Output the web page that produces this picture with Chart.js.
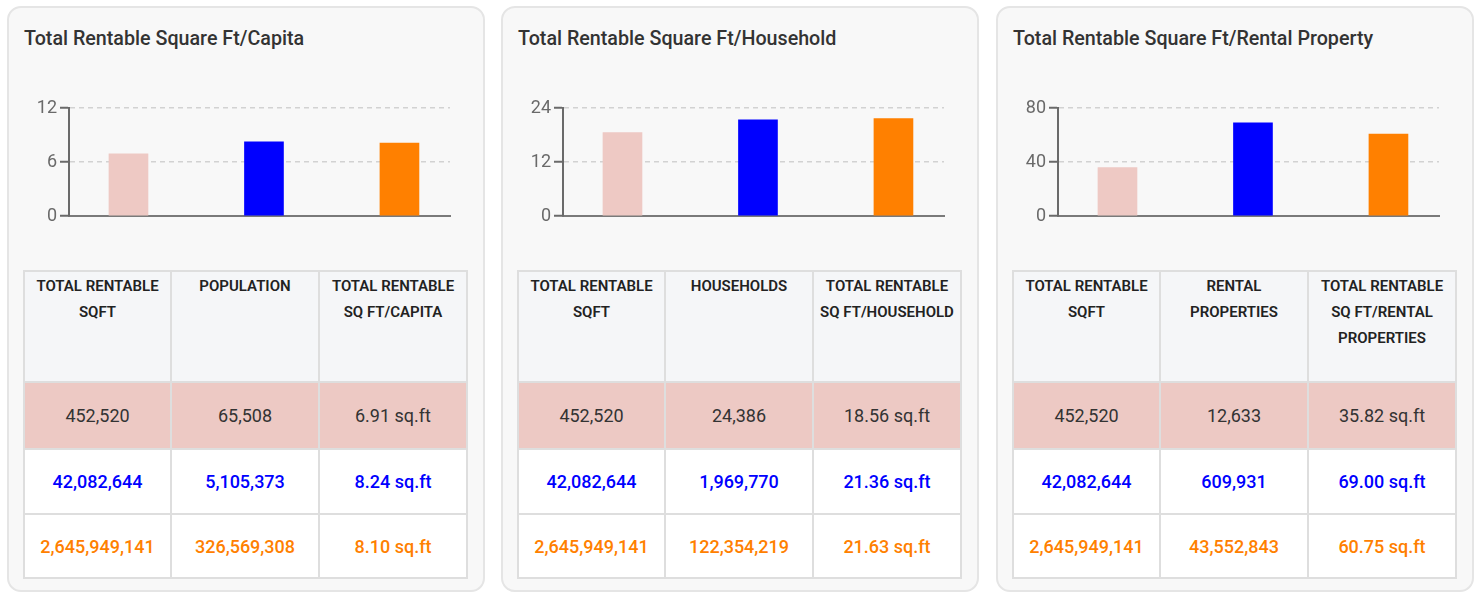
<!DOCTYPE html>
<html>
<head>
<meta charset="utf-8">
<script src="https://cdn.jsdelivr.net/npm/chart.js@4.4.1/dist/chart.umd.min.js"></script>
<style>
  html, body { margin: 0; padding: 0; background: #ffffff; font-family: Roboto, "Noto Sans", sans-serif; }
  body { width: 1482px; height: 593px; position: relative; overflow: hidden; }
  .card { position: absolute; top: 6px; width: 478px; height: 586px; box-sizing: border-box;
          background: #f8f8f8; border: 2px solid #e5e5e5; border-radius: 14px; }
  .title { position: absolute; left: 15px; top: 18px; font-size: 19.7px; font-weight: 500; color: #333; line-height: 26px; white-space: nowrap; }
  .chartbox { position: absolute; left: -2px; top: 82px; width: 460px; height: 140px; }
  .grid { position: absolute; left: 14px; top: 262px; display: grid;
          grid-template-columns: 145px 146px 146px; grid-template-rows: 109px 65px 63px 62px;
          gap: 2px; padding: 2px; background: #dedede; }
  .grid div { display: flex; align-items: center; justify-content: center; text-align: center; }
  .grid .th { background: #f5f6f8; align-items: flex-start; font-size: 15px; font-weight: 600; color: #222;
              line-height: 26px; padding-top: 1px; box-sizing: border-box; }
  .grid .r0 { background: #edc9c4; color: #333; font-size: 18px; }
  .grid .r1 { background: #ffffff; color: #0000ff; font-size: 18px; font-weight: 500; }
  .grid .r2 { background: #ffffff; color: #ff8000; font-size: 18px; font-weight: 500; }
</style>
</head>
<body>
<div id="root"></div>
<script>
// ---- data ----
const categories = ['Local', 'State', 'National'];
const barColors = ['#eec9c4', '#0000ff', '#ff8000'];

const titles = ['Total Rentable Square Ft/Capita', 'Total Rentable Square Ft/Household', 'Total Rentable Square Ft/Rental Property'];

const capitaValues = [6.91, 8.24, 8.10];
const householdValues = [18.56, 21.36, 21.63];
const propertyValues = [35.82, 69.00, 60.75];

const capitaTicks = [0, 6, 12];
const householdTicks = [0, 12, 24];
const propertyTicks = [0, 40, 80];

const capitaHeaders = ['TOTAL RENTABLE<br>SQFT', 'POPULATION', 'TOTAL RENTABLE<br>SQ FT/CAPITA'];
const householdHeaders = ['TOTAL RENTABLE<br>SQFT', 'HOUSEHOLDS', 'TOTAL RENTABLE<br>SQ FT/HOUSEHOLD'];
const propertyHeaders = ['TOTAL RENTABLE<br>SQFT', 'RENTAL<br>PROPERTIES', 'TOTAL RENTABLE<br>SQ FT/RENTAL<br>PROPERTIES'];

const rentableSqft = ['452,520', '42,082,644', '2,645,949,141'];
const population = ['65,508', '5,105,373', '326,569,308'];
const households = ['24,386', '1,969,770', '122,354,219'];
const rentalProperties = ['12,633', '609,931', '43,552,843'];
const capitaText = ['6.91 sq.ft', '8.24 sq.ft', '8.10 sq.ft'];
const householdText = ['18.56 sq.ft', '21.36 sq.ft', '21.63 sq.ft'];
const propertyText = ['35.82 sq.ft', '69.00 sq.ft', '60.75 sq.ft'];

const panels = [
  { title: titles[0], values: capitaValues, ticks: capitaTicks, headers: capitaHeaders, cols: [rentableSqft, population, capitaText] },
  { title: titles[1], values: householdValues, ticks: householdTicks, headers: householdHeaders, cols: [rentableSqft, households, householdText] },
  { title: titles[2], values: propertyValues, ticks: propertyTicks, headers: propertyHeaders, cols: [rentableSqft, rentalProperties, propertyText] }
];

const cardLefts = [7, 501, 996];
const root = document.getElementById('root');

panels.forEach((p, i) => {
  const card = document.createElement('div');
  card.className = 'card';
  card.style.left = cardLefts[i] + 'px';
  let html = '<div class="title">' + p.title + '</div>';
  html += '<div class="chartbox"><canvas id="c' + i + '"></canvas></div>';
  html += '<div class="grid">';
  p.headers.forEach(h => { html += '<div class="th">' + h + '</div>'; });
  for (let r = 0; r < 3; r++) {
    for (let c = 0; c < 3; c++) {
      html += '<div class="r' + r + '">' + p.cols[c][r] + '</div>';
    }
  }
  html += '</div>';
  card.innerHTML = html;
  root.appendChild(card);

  const step = p.ticks[1] - p.ticks[0];
  new Chart(document.getElementById('c' + i), {
    type: 'bar',
    data: {
      labels: categories,
      datasets: [{
        data: p.values.map((v, k) => ({ x: k, y: v })),
        backgroundColor: barColors,
        borderWidth: 0,
        barThickness: 39
      }]
    },
    options: {
      responsive: true,
      maintainAspectRatio: false,
      animation: false,
      layout: { padding: { top: 18, right: 17, bottom: 14, left: 0 } },
      plugins: { legend: { display: false }, tooltip: { enabled: false } },
      scales: {
        x: {
          type: 'linear',
          offset: false,
          min: -0.439,
          max: 2.373,
          ticks: { display: false },
          grid: { display: false, drawTicks: false, offset: false },
          border: { display: true, color: '#7a7a7a', width: 2 },
          afterFit: s => { s.height = 0; s.paddingLeft = 0; s.paddingRight = 0; }
        },
        y: {
          min: p.ticks[0],
          max: p.ticks[p.ticks.length - 1],
          ticks: { stepSize: step, padding: 3, color: '#6a6a6a', font: { family: 'Roboto', size: 18 } },
          grid: { color: '#d2d2d2', lineWidth: 1.5, tickLength: 9, tickColor: '#6a6a6a', tickWidth: 2 },
          border: { display: true, color: '#6a6a6a', width: 2, dash: [5, 4] },
          afterFit: s => { s.width = 62; s.paddingTop = 0; s.paddingBottom = 0; }
        }
      }
    }
  });
});
</script>
</body>
</html>
